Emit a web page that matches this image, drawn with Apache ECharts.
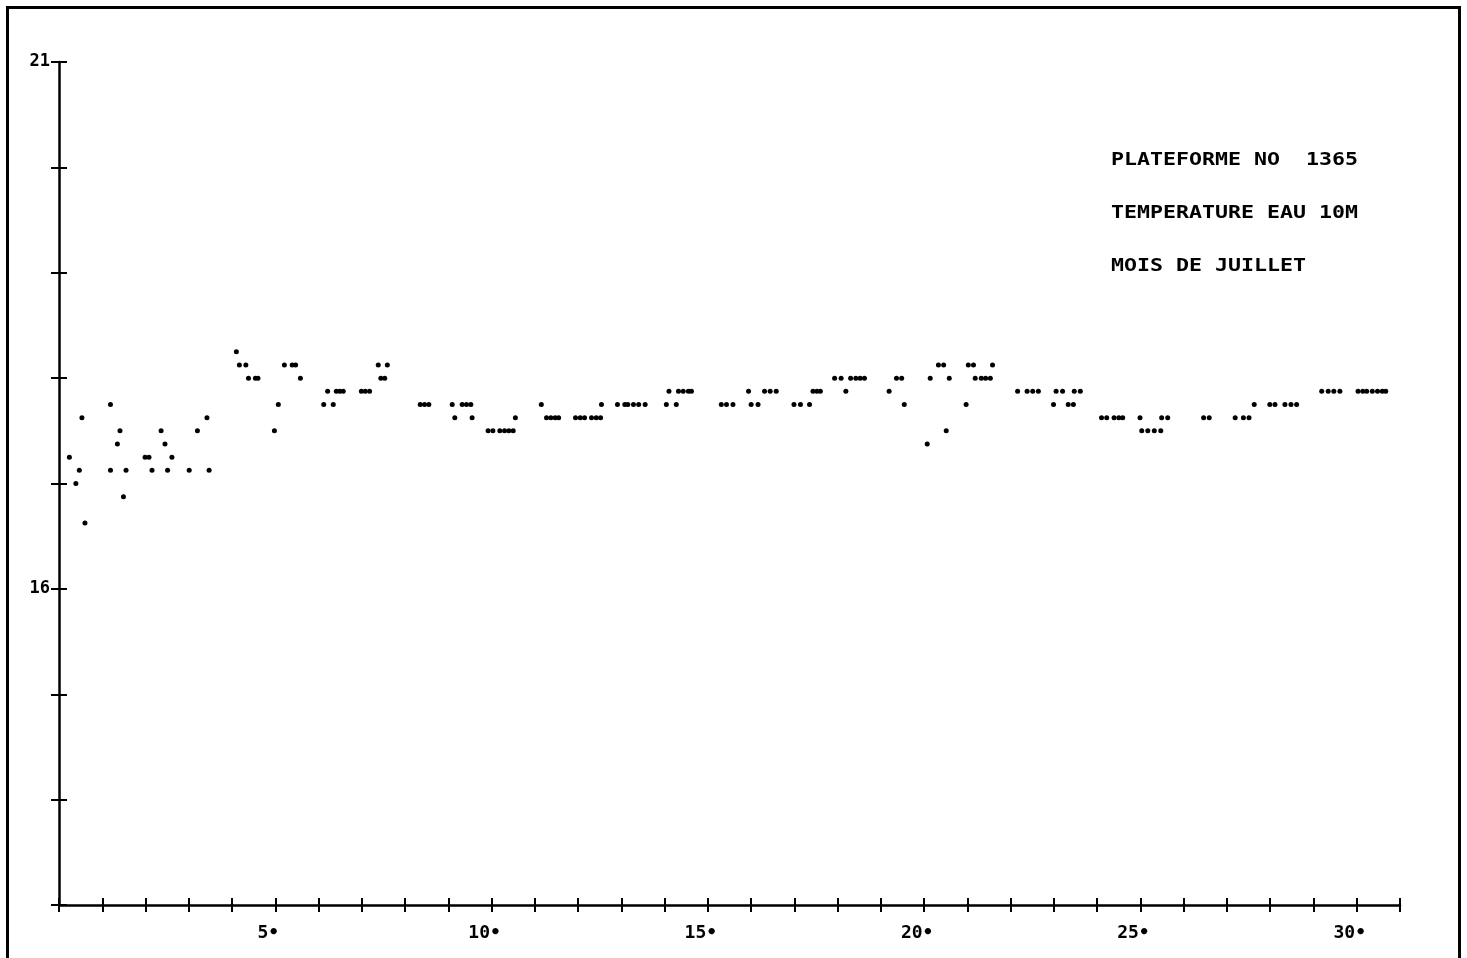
<!DOCTYPE html>
<html>
<head>
<meta charset="utf-8">
<title>Plateforme 1365 - temperature eau 10m</title>
<script src="https://cdn.jsdelivr.net/npm/echarts@6/dist/echarts.min.js"></script>
<style>
  html, body { margin: 0; padding: 0; background: #fff; }
  #chart { width: 1467px; height: 958px; }
</style>
</head>
<body>
<div id="chart"></div>
<script>
// jour du mois (fraction de jour) pour chaque mesure
let obsDay = [
  0.24, 0.39, 0.47, 0.53, 0.60,
  1.19, 1.19, 1.35, 1.41, 1.49, 1.55,
  1.99, 2.08, 2.15, 2.36, 2.45, 2.51, 2.61,
  3.01, 3.20, 3.42, 3.47,
  4.10, 4.17, 4.32, 4.38, 4.54, 4.60, 4.98,
  5.07, 5.21, 5.39, 5.47, 5.58,
  6.12, 6.21, 6.34, 6.41, 6.49, 6.57, 6.99,
  7.08, 7.18, 7.38, 7.44, 7.53, 7.59,
  8.35, 8.45, 8.55,
  9.09, 9.15, 9.32, 9.42, 9.52, 9.55, 9.92,
  10.03, 10.19, 10.30, 10.40, 10.50, 10.55,
  11.15, 11.27, 11.37, 11.47, 11.55, 11.94,
  12.05, 12.15, 12.31, 12.42, 12.52, 12.54, 12.91,
  13.08, 13.15, 13.28, 13.40, 13.55,
  14.04, 14.10, 14.27, 14.32, 14.43, 14.55, 14.62,
  15.31, 15.43, 15.58, 15.94,
  16.00, 16.16, 16.31, 16.44, 16.58, 16.99,
  17.14, 17.35, 17.43, 17.52, 17.60, 17.93,
  18.08, 18.19, 18.30, 18.42, 18.52, 18.62,
  19.19, 19.36, 19.48, 19.54,
  20.07, 20.14, 20.33, 20.45, 20.51, 20.58, 20.97,
  21.02, 21.14, 21.18, 21.32, 21.42, 21.53, 21.58,
  22.16, 22.38, 22.51, 22.64, 22.99,
  23.05, 23.20, 23.33, 23.45, 23.47, 23.61,
  24.10, 24.22, 24.39, 24.50, 24.59, 24.99,
  25.03, 25.17, 25.32, 25.47, 25.49, 25.63,
  26.46, 26.59,
  27.19, 27.38, 27.51, 27.63, 27.99,
  28.11, 28.34, 28.48, 28.61,
  29.19, 29.34, 29.47, 29.61,
  30.03, 30.14, 30.23, 30.36, 30.48, 30.59, 30.67
]
// temperature (deg C), meme ordre que obsDay
let obsTemp = [
  17.25, 17.0, 17.125, 17.625, 16.625,
  17.75, 17.125, 17.375, 17.5, 16.875, 17.125,
  17.25, 17.25, 17.125, 17.5, 17.375, 17.125, 17.25,
  17.125, 17.5, 17.625, 17.125,
  18.25, 18.125, 18.125, 18.0, 18.0, 18.0, 17.5,
  17.75, 18.125, 18.125, 18.125, 18.0,
  17.75, 17.875, 17.75, 17.875, 17.875, 17.875, 17.875,
  17.875, 17.875, 18.125, 18.0, 18.0, 18.125,
  17.75, 17.75, 17.75,
  17.75, 17.625, 17.75, 17.75, 17.75, 17.625, 17.5,
  17.5, 17.5, 17.5, 17.5, 17.5, 17.625,
  17.75, 17.625, 17.625, 17.625, 17.625, 17.625,
  17.625, 17.625, 17.625, 17.625, 17.625, 17.75, 17.75,
  17.75, 17.75, 17.75, 17.75, 17.75,
  17.75, 17.875, 17.75, 17.875, 17.875, 17.875, 17.875,
  17.75, 17.75, 17.75, 17.875,
  17.75, 17.75, 17.875, 17.875, 17.875, 17.75,
  17.75, 17.75, 17.875, 17.875, 17.875, 18.0,
  18.0, 17.875, 18.0, 18.0, 18.0, 18.0,
  17.875, 18.0, 18.0, 17.75,
  17.375, 18.0, 18.125, 18.125, 17.5, 18.0, 17.75,
  18.125, 18.125, 18.0, 18.0, 18.0, 18.0, 18.125,
  17.875, 17.875, 17.875, 17.875, 17.75,
  17.875, 17.875, 17.75, 17.75, 17.875, 17.875,
  17.625, 17.625, 17.625, 17.625, 17.625, 17.625,
  17.5, 17.5, 17.5, 17.5, 17.625, 17.625,
  17.625, 17.625,
  17.625, 17.625, 17.625, 17.75, 17.75,
  17.75, 17.75, 17.75, 17.75,
  17.875, 17.875, 17.875, 17.875,
  17.875, 17.875, 17.875, 17.875, 17.875, 17.875, 17.875
]
let dayRange = [0, 31]
let xLabelDays = [5, 10, 15, 20, 25, 30]
let tempRange = [13, 21]
let yLabelTemps = [16, 21]
let infoLines = ['PLATEFORME NO  1365', 'TEMPERATURE EAU 10M', 'MOIS DE JUILLET']

let font = '"DejaVu Sans Mono", "Liberation Mono", monospace'
let chart = echarts.init(document.getElementById('chart'), null, { renderer: 'canvas' })

let points = obsDay.map(function (d, i) { return [d, obsTemp[i]] })

// axe principal (ligne, ticks exterieurs, labels) + axe fantome (ticks interieurs) => croix "+"
function xAxisOf(inside) {
  return {
    type: 'value', min: dayRange[0], max: dayRange[1], interval: 1,
    position: 'bottom',
    axisLine: { show: !inside, lineStyle: { color: '#000', width: 2.5 } },
    axisTick: { show: true, inside: inside, length: 7, lineStyle: { color: '#000', width: 2 } },
    splitLine: { show: false },
    axisLabel: inside ? { show: false } : {
      show: true, margin: 19, align: 'center',
      formatter: function (v) {
        return xLabelDays.indexOf(v) >= 0 ? '{v|' + v + '\u2022}{s| }' : ''
      },
      rich: {
        v: { fontFamily: font, fontWeight: 'bold', fontSize: 18, color: '#000' },
        s: { width: 14, fontSize: 18 }
      }
    }
  }
}
function yAxisOf(inside) {
  return {
    type: 'value', min: tempRange[0], max: tempRange[1], interval: 1,
    position: 'left',
    axisLine: { show: !inside, lineStyle: { color: '#000', width: 2.5 } },
    axisTick: { show: true, inside: inside, length: 8, lineStyle: { color: '#000', width: 2 } },
    splitLine: { show: false },
    axisLabel: inside ? { show: false } : {
      show: true, margin: 9, verticalAlign: 'middle', padding: [0, 0, 4, 0],
      fontFamily: font, fontWeight: 'bold', fontSize: 17, color: '#000',
      formatter: function (v) { return yLabelTemps.indexOf(v) >= 0 ? String(v) : '' }
    }
  }
}

let option = {
  backgroundColor: '#fff',
  animation: false,
  grid: { left: 59, right: 67, top: 62, bottom: 53, outerBoundsMode: 'none' },
  xAxis: [xAxisOf(false), xAxisOf(true)],
  yAxis: [yAxisOf(false), yAxisOf(true)],
  series: [{
    type: 'scatter',
    xAxisIndex: 0, yAxisIndex: 0,
    symbol: 'circle', symbolSize: 5,
    itemStyle: { color: '#000', opacity: 1 },
    data: points
  }],
  graphic: [
    // cadre du trace
    { type: 'rect', left: 5, top: 5, shape: { width: 1452, height: 1000 },
      style: { fill: 'none', stroke: '#000', lineWidth: 3 }, silent: true }
  ].concat(infoLines.map(function (t, i) {
    return {
      type: 'text', x: 1111, y: 160 + i * 53, scaleX: 1.2,
      style: { text: t, font: 'bold 18px ' + font, fill: '#000', verticalAlign: 'middle', textVerticalAlign: 'middle' }
    }
  }))
}
chart.setOption(option)
</script>
</body>
</html>
